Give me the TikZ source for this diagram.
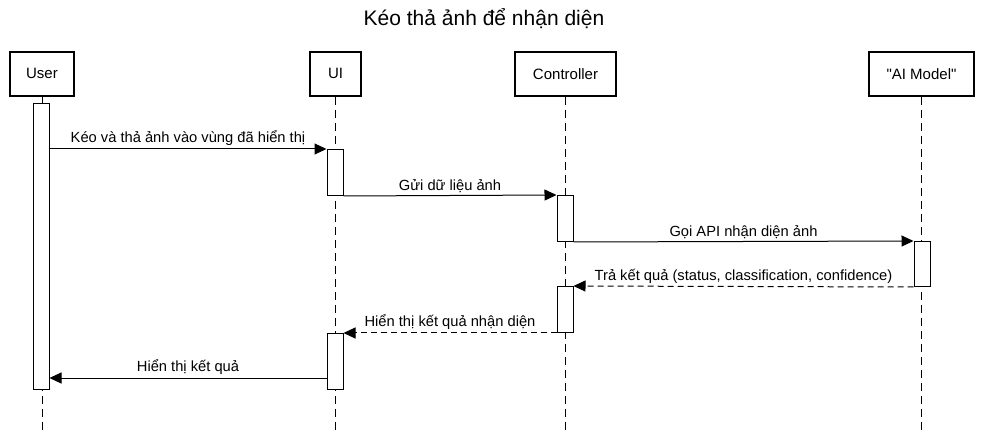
\documentclass[tikz,border=0pt]{standalone}
\usepackage{fontspec}
\setmainfont{Liberation Sans}
\usetikzlibrary{arrows.meta}
\begin{document}
\begin{tikzpicture}[x=1pt,y=-1pt,
  part/.style={draw,line width=1.8pt,minimum width=#1,minimum height=44pt,inner sep=0pt,font=\fontsize{15}{17}\selectfont,anchor=north},
  life/.style={line width=1pt,dash pattern=on 8pt off 5pt},
  act/.style={draw,fill=white,line width=1pt,minimum width=16pt,inner sep=0pt,anchor=north},
  msg/.style={line width=1pt,-{Triangle[length=12pt,width=11pt]}},
  ret/.style={msg,dash pattern=on 6pt off 4pt},
  lbl/.style={font=\fontsize{14.7}{17}\selectfont,above,inner sep=2.5pt}
]
\useasboundingbox (0,0) rectangle (982,435);
\node[font=\fontsize{21}{24}\selectfont] (title) at (484,19) {Kéo thả ảnh để nhận diện};
% participants
\node[part=64pt] (user) at (42,51) {User};
\node[part=51pt] (ui) at (335.5,51) {UI};
\node[part=101pt] (ctrl) at (565.5,51) {Controller};
\node[part=105pt] (ai) at (921.5,51) {\textquotedbl AI Model\textquotedbl};
% lifelines
\coordinate (bot) at (0,435);
\foreach \p in {user,ui,ctrl,ai} \draw[life] (\p.south) -- (\p.south |- bot);
% activations
\node[act,minimum height=286pt] (aU) at (41,103) {};
\node[act,minimum height=46pt] (aUI1) at (335,149) {};
\node[act,minimum height=46pt] (aC1) at (565,195) {};
\node[act,minimum height=45pt] (aAI) at (922,241) {};
\node[act,minimum height=46pt] (aC2) at (565,286) {};
\node[act,minimum height=56pt] (aUI2) at (335,333) {};
% messages
\draw[msg] (aU.east |- aUI1.north) -- node[lbl] {Kéo và thả ảnh vào vùng đã hiển thị} (aUI1.north west);
\draw[msg] (aUI1.south east) -- node[lbl] {Gửi dữ liệu ảnh} (aC1.north west);
\draw[msg] (aC1.south east) -- node[lbl] {Gọi API nhận diện ảnh} (aAI.north west);
\draw[ret] (aAI.south west) -- node[lbl] {Trả kết quả (status, classification, confidence)} (aC2.north east);
\draw[ret] (aC2.south west) -- node[lbl] {Hiển thị kết quả nhận diện} (aUI2.north east);
\coordinate (m6) at (0,378);
\draw[msg] (aUI2.west |- m6) -- node[lbl] {Hiển thị kết quả} (aU.east |- m6);
\end{tikzpicture}
\end{document}
